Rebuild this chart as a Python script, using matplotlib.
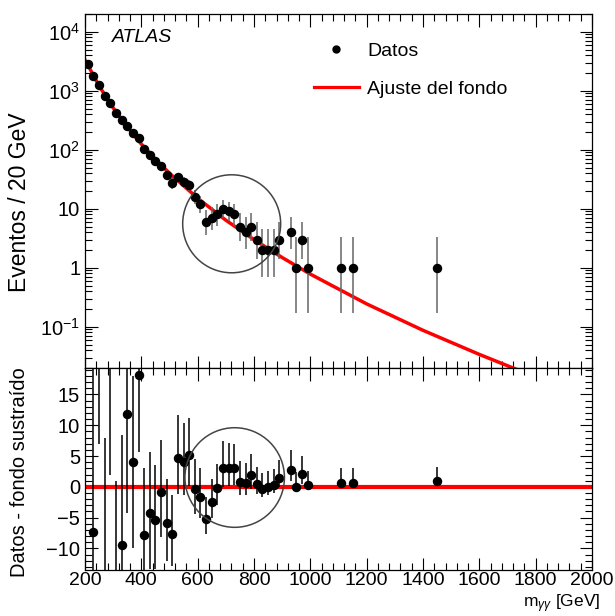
import matplotlib
matplotlib.use("Agg")
import matplotlib.pyplot as plt
from matplotlib.patches import Ellipse
from matplotlib.ticker import FixedLocator, MultipleLocator, NullFormatter, LogLocator
import numpy as np

plt.rcParams['font.family'] = ['Liberation Sans', 'DejaVu Sans']
plt.rcParams['mathtext.fontset'] = 'custom'
plt.rcParams['mathtext.rm'] = 'Liberation Sans'
plt.rcParams['mathtext.it'] = 'Liberation Sans:italic'

# bin centres (20 GeV bins) that hold events
mass = [210, 230, 250, 270, 290, 310, 330, 350, 370, 390,
        410, 430, 450, 470, 490, 510, 530, 550, 570, 590,
        610, 630, 650, 670, 690, 710, 730, 750, 770, 790,
        810, 830, 850, 870, 890, 930, 950, 970, 990,
        1110, 1150, 1450]
counts = [2800, 1800, 1270, 820, 630, 413, 319, 253, 190, 159,
          102, 82, 64, 54, 38, 27, 34, 28, 25, 16,
          12, 6, 7, 8, 10, 9, 8, 5, 4, 5,
          3, 2, 2, 2, 3, 4, 1, 3, 1,
          1, 1, 1]
err_lo = [53, 42, 36, 29, 25, 20, 18, 16, 14, 12.6,
          10, 9, 8, 7.3, 6.1, 5.2, 5.8, 5.3, 5, 4,
          3.4, 2.4, 2.6, 2.8, 3.1, 2.9, 2.8, 2.2, 1.9, 2.2,
          1.6, 1.3, 1.3, 1.3, 1.6, 1.9, 0.83, 1.6, 0.83,
          0.83, 0.83, 0.83]
err_hi = [53, 43, 36, 29, 26, 21, 18, 16, 14, 13,
          11, 10, 9, 8.4, 7.2, 6.2, 6.9, 6.3, 6, 5,
          4.6, 3.6, 3.8, 3.9, 4.3, 4.1, 3.9, 3.4, 3.2, 3.4,
          2.9, 2.6, 2.6, 2.6, 2.9, 3.2, 2.3, 2.9, 2.3,
          2.3, 2.3, 2.3]
# data minus background fit
residual = [115, -7.4, 43, -21, 27, -20, -9.5, 11.8, 4.0, 18.2,
            -7.9, -4.3, -5.4, -0.8, -5.9, -7.6, 4.7, 4.0, 5.1, -0.4,
            -1.6, -5.3, -2.5, -0.2, 3.1, 3.1, 3.1, 0.8, 0.6, 1.9,
            0.4, -0.4, -0.1, 0.3, 1.5, 2.8, 0.05, 2.1, 0.3,
            0.7, 0.7, 1.0]

# background fit
fit_mass = [200, 250, 300, 350, 400, 450, 500, 600, 700, 800,
            900, 1000, 1200, 1400, 1600, 1750]
fit_value = [3350, 1210, 513, 243, 125, 69, 40, 15.1, 6.4, 3.0,
             1.49, 0.78, 0.244, 0.087, 0.034, 0.0175]

fig = plt.figure(figsize=(6.15, 6.16), dpi=100)
ax1 = fig.add_axes([0.1382, 0.4026, 0.8244, 0.5747])
ax2 = fig.add_axes([0.1382, 0.0747, 0.8244, 0.3279])

# top panel
ax1.plot(fit_mass, fit_value, color='red', lw=2.5, zorder=2)
ax1.errorbar(mass, counts, yerr=[err_lo, err_hi], fmt='o', color='black',
             ecolor='#666666', elinewidth=1.1, markersize=5.8, capsize=0, zorder=3)
ax1.set_yscale('log')
ax1.set_xlim(200, 2000)
ax1.set_ylim(0.02, 2e4)
ax1.yaxis.set_major_locator(FixedLocator([0.1, 1, 10, 100, 1000, 10000]))
ax1.set_yticklabels(['$10^{-1}$', '1', '10', '$10^{2}$', '$10^{3}$', '$10^{4}$'])
ax1.yaxis.set_minor_locator(LogLocator(base=10, subs=np.arange(2, 10), numticks=20))
ax1.yaxis.set_minor_formatter(NullFormatter())
ax1.xaxis.set_major_locator(MultipleLocator(200))
ax1.xaxis.set_minor_locator(MultipleLocator(40))
ax1.tick_params(labelbottom=False)

# bottom panel
ax2.axhline(0, color='red', lw=3, zorder=2)
ax2.errorbar(mass, residual, yerr=[err_lo, err_hi], fmt='o', color='black',
             ecolor='black', elinewidth=1.1, markersize=5.8, capsize=0, zorder=3)
ax2.set_xlim(200, 2000)
ax2.set_ylim(-13.5, 19.3)
ax2.yaxis.set_major_locator(MultipleLocator(5))
ax2.yaxis.set_minor_locator(MultipleLocator(1))
ax2.xaxis.set_major_locator(MultipleLocator(200))
ax2.xaxis.set_minor_locator(MultipleLocator(40))

for ax in (ax1, ax2):
    ax.tick_params(which='both', direction='in', top=True, right=True,
                   labelsize=14.5, width=0.8)
    ax.tick_params(which='major', length=9)
    ax.tick_params(which='minor', length=5)
    for sp in ax.spines.values():
        sp.set_linewidth(0.9)
ax2.tick_params(axis='x', which='major', pad=1.5, labelsize=14)

# circles around the excess
fig.patches.append(Ellipse((0.3767, 0.6367), 0.1593, 0.1591, transform=fig.transFigure,
                           fill=False, edgecolor='#444444', lw=1.1))
fig.patches.append(Ellipse((0.3816, 0.2248), 0.1618, 0.1617, transform=fig.transFigure,
                           fill=False, edgecolor='#444444', lw=1.1))

# legend
h_data = plt.Line2D([], [], marker='o', color='black', ls='none', markersize=5)
h_fit = plt.Line2D([], [], color='red', lw=2.3)
fig.legend([h_data, h_fit], ['Datos', 'Ajuste del fondo'], loc='upper left',
           bbox_to_anchor=(314 / 615, 1 - 42 / 616), bbox_transform=fig.transFigure,
           frameon=False, fontsize=14, handlelength=2.3, handletextpad=0.45,
           labelspacing=1.05, borderpad=0, borderaxespad=0)

fig.text(112 / 615, 1 - 37 / 616, 'ATLAS', fontsize=14, style='italic',
         va='center', ha='left')

fig.text(20 / 615, 1 - 202 / 616, 'Eventos / 20 GeV', rotation=90,
         fontsize=16.5, va='center', ha='center')
fig.text(20 / 615, 1 - 472 / 616, 'Datos - fondo sustraído', rotation=90,
         fontsize=14.5, va='center', ha='center')
fig.text(600 / 615, 1 - 604 / 616, r'm$_{\gamma\gamma}$ [GeV]', fontsize=12.5,
         va='center', ha='right')

fig.savefig('out.png', dpi=100)
